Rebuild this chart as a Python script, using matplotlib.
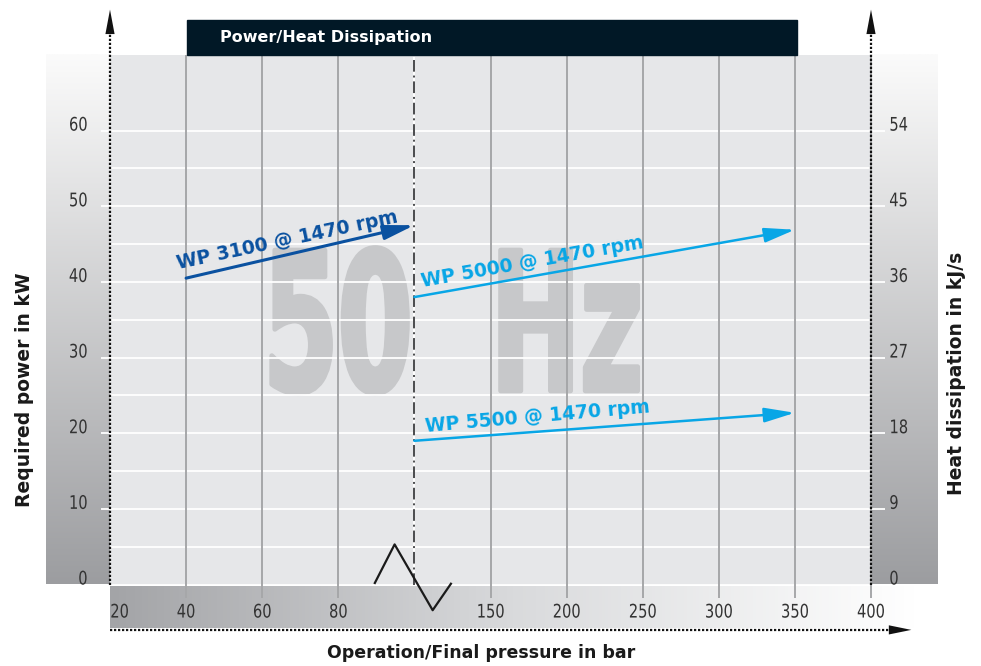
import numpy as np
import matplotlib
matplotlib.use("Agg")
import matplotlib.pyplot as plt
from matplotlib import font_manager, patheffects
from matplotlib.colors import LinearSegmentedColormap
from matplotlib.patches import Rectangle
from matplotlib.transforms import Affine2D

# pressure axis: evenly spaced positions, scale breaks after 80 bar (position 4)
pressure_labels = ['20', '40', '60', '80', '', '150', '200', '250', '300', '350', '400']
break_pos = 4
kw_ticks = [0, 10, 20, 30, 40, 50, 60]
kw_minor = [5, 15, 25, 35, 45, 55]
kjs_ticks = [0, 9, 18, 27, 36, 45, 54]

# pump curves (x = position on pressure axis, y = required power kW)
wp3100_pos = [1, 4]
wp3100_kw = [40.5, 47.5]
wp5000_pos = [4, 9]
wp5000_kw = [38.0, 46.9]
wp5500_pos = [4, 9]
wp5500_kw = [19.0, 22.7]

# axis break zigzag
zigzag_pos = [3.48, 3.74, 4.24, 4.48]
zigzag_kw = [0.2, 5.3, -3.4, 0.1]

BG = '#e6e7e9'
GRID = '#a6a7a9'
NAVY = '#011826'
BLUE_DARK = '#0a51a0'
BLUE_LIGHT = '#08a6e6'
WATERMARK = '#c7c8ca'
TXT = '#333333'

names = {f.name for f in font_manager.fontManager.ttflist}
NARROW_OK = 'Liberation Sans Narrow' in names
NARROW_FAMILY = 'Liberation Sans Narrow' if NARROW_OK else 'DejaVu Sans'


class HSqueeze(patheffects.AbstractPathEffect):
    """squeeze text horizontally around an anchor (0 left, .5 centre, 1 right)"""
    def __init__(self, sx, anchor=0.0, stroke=0.0):
        super().__init__()
        self.sx = sx
        self.anchor = anchor
        self.stroke = stroke

    def draw_path(self, renderer, gc, tpath, affine, rgbFace=None):
        ext = tpath.get_extents()
        x0 = ext.x0 + self.anchor * ext.width
        tr = Affine2D().translate(-x0, 0).scale(self.sx, 1).translate(x0, 0) + affine
        if self.stroke:
            gc0 = renderer.new_gc()
            gc0.copy_properties(gc)
            gc0.set_linewidth(self.stroke)
            gc0.set_foreground(rgbFace)
            renderer.draw_path(gc0, tpath, tr, rgbFace)
            gc0.restore()
        else:
            renderer.draw_path(gc, tpath, tr, rgbFace)


tick_sx = 1.0 if NARROW_OK else 0.78

fig = plt.figure(figsize=(9.81, 6.66), dpi=100)
ax = fig.add_axes([110 / 981, 81.5 / 666, 761 / 981, 529.5 / 666])
ax.set_facecolor(BG)
for s in ax.spines.values():
    s.set_visible(False)

# side panels and bottom bar gradients
panel_cmap = LinearSegmentedColormap.from_list('panel', ['#fbfbfb', '#9c9da0'])
bar_cmap = LinearSegmentedColormap.from_list('bar', ['#a3a4a7', '#d9dadc', '#ffffff'])
vgrad = np.linspace(0, 1, 256).reshape(-1, 1)
hgrad = np.linspace(0, 1, 256).reshape(1, -1)
ax.imshow(vgrad, cmap=panel_cmap, extent=(-0.84, 0, 0, 70), aspect='auto', clip_on=False, zorder=0)
ax.imshow(vgrad, cmap=panel_cmap, extent=(10, 10.87, 0, 70), aspect='auto', clip_on=False, zorder=0)
ax.imshow(hgrad, cmap=bar_cmap, extent=(0, 10.6, -5.7, -0.2), aspect='auto', clip_on=False, zorder=0)

# "50 Hz" watermark, squeezed to a condensed look
renderer = fig.canvas.get_renderer()
for txt, x0, width_px in [('50', 1.93, 149), ('Hz', 4.90, 152)]:
    wm = ax.text(x0, 25.6, txt, fontsize=139, fontweight='bold', color=WATERMARK,
                 ha='left', va='baseline', zorder=0.5, family=NARROW_FAMILY)
    w = wm.get_window_extent(renderer).width
    wm.set_path_effects([HSqueeze(width_px / w, 0.0, stroke=3.5)])

# grid
ax.hlines(kw_ticks, -0.12, 10.18, color='white', lw=1.3, zorder=1, clip_on=False)
ax.hlines(kw_minor, 0, 10, color='white', lw=1.3, zorder=1)
grid_pos = [p for p in range(1, 11) if p != break_pos]
ax.vlines(grid_pos, -1.8, 70, color=GRID, lw=1.4, zorder=1, clip_on=False)
ax.vlines(break_pos, 0, 70, color='white', lw=1.4, zorder=1.5)
ax.vlines(break_pos, 0, 70, color='#4a4b4d', lw=1.4, linestyles=(0, (6, 2, 1, 2)), zorder=1.6)

# dotted axes with arrows
dot = dict(color='#111111', lw=1.6, ls=(0, (1, 0.8)), clip_on=False, zorder=4)
head = dict(color='#111111', lw=0, shrinkA=0, shrinkB=0, mutation_scale=10)
for xa in (0, 10):
    ax.plot([xa, xa], [0, 72.9], **dot)
    ax.annotate('', xy=(xa, 76.0), xytext=(xa, 72.8), annotation_clip=False,
                arrowprops=dict(arrowstyle='-|>,head_length=1.76,head_width=0.33', **head))
ax.plot([0, 10.26], [-6.0, -6.0], **dot)
ax.annotate('', xy=(10.53, -6.0), xytext=(10.24, -6.0), annotation_clip=False,
            arrowprops=dict(arrowstyle='-|>,head_length=1.62,head_width=0.33', **head))

# axis break symbol
ax.plot(zigzag_pos, zigzag_kw, color='#1a1a1a', lw=1.6, clip_on=False, zorder=4)

# pump curves
for pos, kw, col, lw in [(wp3100_pos, wp3100_kw, BLUE_DARK, 2.2),
                         (wp5000_pos, wp5000_kw, BLUE_LIGHT, 1.8),
                         (wp5500_pos, wp5500_kw, BLUE_LIGHT, 1.8)]:
    ax.annotate('', xy=(pos[1], kw[1]), xytext=(pos[0], kw[0]), zorder=3,
                arrowprops=dict(arrowstyle='-|>,head_length=1.85,head_width=0.44',
                                color=col, lw=lw, shrinkA=0, shrinkB=0, mutation_scale=10))

lab = dict(ha='left', va='baseline', rotation_mode='anchor', fontsize=13.5, fontweight='bold', zorder=5)
ax.text(0.90, 41.7, 'WP 3100 @ 1470 rpm', rotation=12, color=BLUE_DARK, **lab)
ax.text(4.10, 39.3, 'WP 5000 @ 1470 rpm', rotation=10, color=BLUE_LIGHT, **lab)
ax.text(4.15, 20.2, 'WP 5500 @ 1470 rpm', rotation=5, color=BLUE_LIGHT, **lab)

# title bar
ax.add_patch(Rectangle((1.012, 70), 8.015, 4.63, color=NAVY, clip_on=False, zorder=3))
ax.text(1.445, 72.3, 'Power/Heat Dissipation', color='white', fontsize=11.5,
        fontweight='bold', ha='left', va='center', zorder=4)

# ticks
ax.set_xticks(range(len(pressure_labels)), pressure_labels)
ax.set_yticks(kw_ticks)
ax.tick_params(axis='x', length=0, pad=13, labelsize=13.5, labelcolor=TXT)
ax.tick_params(axis='y', length=0, pad=16, labelsize=13.5, labelcolor=TXT)
for lbl in ax.get_xticklabels():
    lbl.set_family(NARROW_FAMILY)
    lbl.set_path_effects([HSqueeze(tick_sx, 0.5)])
for lbl in ax.get_yticklabels():
    lbl.set_family(NARROW_FAMILY)
    lbl.set_va('baseline')
    lbl.set_path_effects([HSqueeze(tick_sx, 1.0)])
first = ax.get_xticklabels()[0]
first.set_ha('left')
first.set_path_effects([HSqueeze(tick_sx, 0.0)])

sec = ax.secondary_yaxis('right', functions=(lambda v: v * 0.9, lambda v: v / 0.9))
sec.set_yticks(kjs_ticks)
sec.tick_params(length=0, pad=13, labelsize=13.5, labelcolor=TXT)
for s in sec.spines.values():
    s.set_visible(False)
for lbl in sec.get_yticklabels():
    lbl.set_family(NARROW_FAMILY)
    lbl.set_va('baseline')
    lbl.set_path_effects([HSqueeze(tick_sx, 0.0)])

# axis titles
ax.set_xlabel('Operation/Final pressure in bar', fontsize=12.5, fontweight='bold', color='#1a1a1a', va='center')
ax.xaxis.set_label_coords(0.4875, -0.129)
ax.set_ylabel('Required power in kW', fontsize=13.5, fontweight='bold', color='#1a1a1a', va='center')
ax.yaxis.set_label_coords(-0.1124, 0.367)
sec.set_ylabel('Heat dissipation in kJ/s', fontsize=13.5, fontweight='bold', color='#1a1a1a', va='center')
sec.yaxis.set_label_coords(1.113, 0.398, transform=ax.transAxes)

ax.set_xlim(0, 10)
ax.set_ylim(0, 70)

fig.savefig('out.png', dpi=100)
